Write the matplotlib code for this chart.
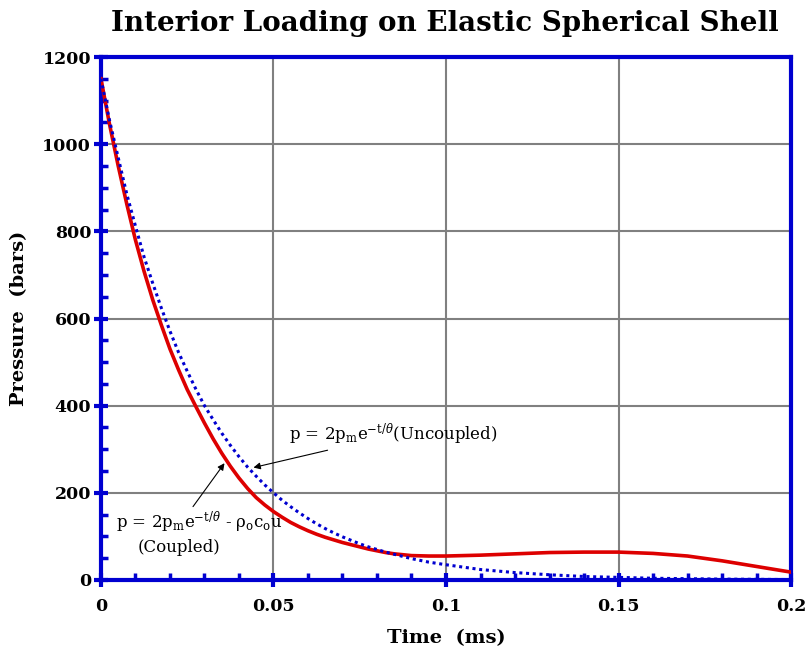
import numpy as np
import matplotlib.pyplot as plt
from matplotlib.ticker import MultipleLocator, FixedLocator

plt.rcParams['font.family'] = 'DejaVu Serif'
plt.rcParams['mathtext.fontset'] = 'dejavuserif'

# time (ms)
time_ms = [0.0, 0.0025, 0.005, 0.0075, 0.01, 0.0125, 0.015, 0.0175, 0.02, 0.0225,
           0.025, 0.0275, 0.03, 0.0325, 0.035, 0.0375, 0.04, 0.0425, 0.045, 0.0475,
           0.05, 0.0525, 0.055, 0.0575, 0.06, 0.0625, 0.065, 0.0675, 0.07, 0.0725,
           0.075, 0.0775, 0.08, 0.0825, 0.085, 0.0875, 0.09, 0.0925, 0.095, 0.0975,
           0.1, 0.11, 0.12, 0.13, 0.14, 0.15, 0.16, 0.17, 0.18, 0.19, 0.2]

# uncoupled pressure (bars)
uncoupled = [1150, 1054, 969, 885, 812, 741, 681, 624, 571, 522,
             479, 438, 400, 368, 337, 309, 283, 259, 238, 218,
             200, 183, 168, 154, 141, 129, 118, 108, 99, 91,
             83, 76, 70, 64, 59, 54, 49, 45, 41, 38,
             35, 24, 17, 12, 8, 6, 4, 3, 2, 1.5, 1]

# coupled pressure (bars)
coupled = [1150, 1045, 950, 862, 780, 708, 643, 585, 530, 482,
           437, 398, 360, 324, 291, 261, 234, 210, 189, 172,
           157, 144, 132, 122, 113, 105, 98, 92, 86, 81,
           76, 71, 67, 63, 60, 58, 56, 55.5, 55, 55,
           55, 57, 60, 63, 64, 64, 61, 55, 44, 31, 18]

blue = '#0000d0'

fig = plt.figure(figsize=(8.09, 6.5), dpi=100)
ax = fig.add_axes([0.1248, 0.1077, 0.8530, 0.8046])

ax.plot(time_ms, coupled, color='#dd0000', lw=2.6, zorder=3)
ax.plot(time_ms, uncoupled, color=blue, lw=2.2, linestyle=(0, (1, 1.2)), zorder=4)

ax.set_xlim(0, 0.2)
ax.set_ylim(0, 1200)
ax.xaxis.set_major_locator(FixedLocator([0, 0.05, 0.1, 0.15, 0.2]))
ax.set_xticklabels(['0', '0.05', '0.1', '0.15', '0.2'])
ax.xaxis.set_minor_locator(MultipleLocator(0.01))
ax.yaxis.set_major_locator(MultipleLocator(200))
ax.yaxis.set_minor_locator(MultipleLocator(50))

ax.grid(True, which='major', color='#808080', lw=1.5, zorder=1)
for s in ax.spines.values():
    s.set_color(blue)
    s.set_linewidth(3)

ax.tick_params(which='major', direction='inout', length=10, width=3, color=blue,
               labelsize=12.5, pad=2)
ax.tick_params(which='minor', direction='in', length=5, width=2.5, color=blue)
for lab in ax.get_xticklabels() + ax.get_yticklabels():
    lab.set_fontweight('bold')
ax.tick_params(axis='x', pad=8)

ax.set_xlabel('Time  (ms)', fontsize=14, fontweight='bold', labelpad=10)
ax.set_ylabel('Pressure  (bars)', fontsize=14, fontweight='bold', labelpad=10)
fig.suptitle('Interior Loading on Elastic Spherical Shell', fontsize=20,
             fontweight='bold', x=0.55, y=0.985)

ax.annotate(r'p = 2p$_{\mathrm{m}}$e$^{\mathrm{-t/}\theta}$(Uncoupled)',
            xy=(0.0442, 258), xytext=(0.0545, 320), fontsize=12,
            arrowprops=dict(arrowstyle='-|>', color='black', lw=0.8,
                            shrinkA=0, shrinkB=0, mutation_scale=10))
ax.annotate(r'p = 2p$_{\mathrm{m}}$e$^{\mathrm{-t/}\theta}$ - $\mathrm{\rho}_{\mathrm{o}}$c$_{\mathrm{o}}$u',
            xy=(0.0358, 268), xytext=(0.0044, 120), fontsize=12,
            arrowprops=dict(arrowstyle='-|>', color='black', lw=0.8,
                            shrinkA=0, shrinkB=0, mutation_scale=10,
                            relpos=(0.45, 1.0)))
ax.text(0.0225, 75, '(Coupled)', fontsize=12, ha='center', va='center')

fig.savefig('out.png', dpi=100)
